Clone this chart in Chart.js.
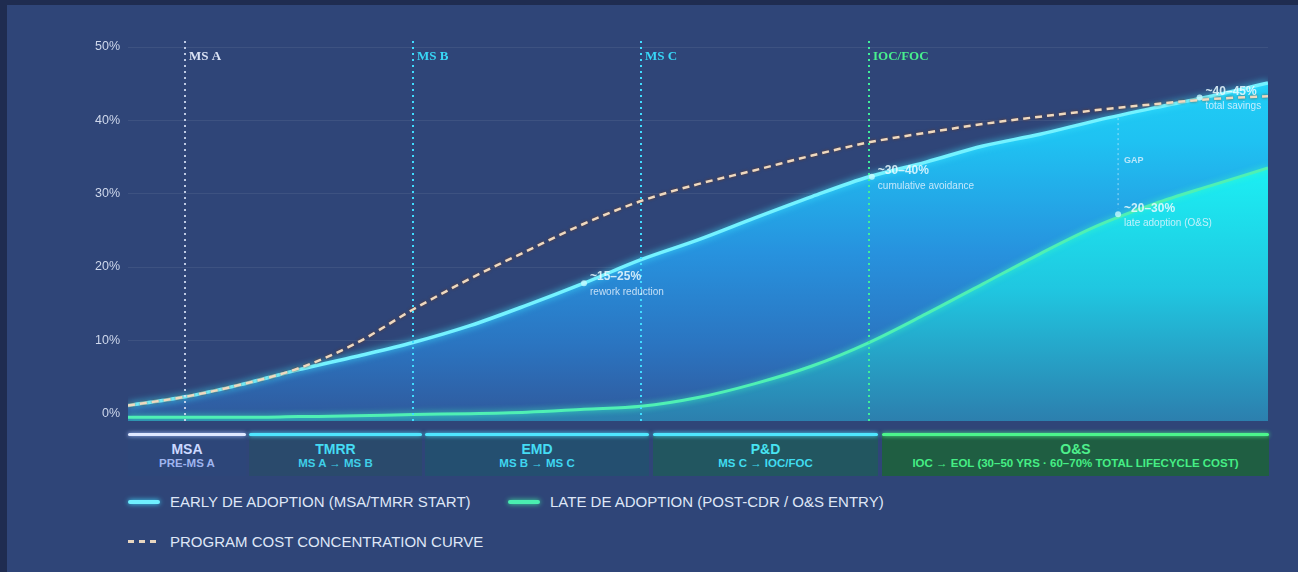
<!DOCTYPE html>
<html>
<head>
<meta charset="utf-8">
<script src="https://cdn.jsdelivr.net/npm/chart.js@4/dist/chart.umd.min.js"></script>
<style>
  html, body { margin: 0; padding: 0; }
  body { width: 1298px; height: 572px; background: #1f2c50; position: relative; overflow: hidden; font-family: "Liberation Sans", Arial, sans-serif; }
  #panel { position: absolute; left: 7px; top: 5px; right: 0; bottom: 0; background: #2f4578; }
  #chart { position: absolute; left: 0; top: 0; }
  .phase { position: absolute; top: 433px; height: 43px; text-align: center; }
  .phase .bar { height: 3px; border-radius: 2px; }
  .phase .name { font-weight: bold; font-size: 14px; margin-top: 6px; line-height: 15px; }
  .phase .sub { font-weight: bold; font-size: 11.5px; margin-top: 0px; line-height: 13px; }
  .legend { position: absolute; display: flex; align-items: center; color: #dfe7f7; font-size: 15px; }
  .legend .mk { width: 32px; height: 4px; border-radius: 2px; margin-right: 10px; }
</style>
</head>
<body>
<div id="panel"></div>
<canvas id="chart" width="1298" height="425"></canvas>

<div class="phase" style="left:128px;width:118px;background:#2d4679;">
  <div class="bar" style="background:#dfe8ff;box-shadow:0 0 4px #aac4ff;"></div>
  <div class="name" style="color:#cbd8ff;">MSA</div><div class="sub" style="color:#9fb4ee;">PRE-MS A</div>
</div>
<div class="phase" style="left:249px;width:173px;background:#2a4a6c;">
  <div class="bar" style="background:#4fe6ff;box-shadow:0 0 4px #4fe6ff;"></div>
  <div class="name" style="color:#45dcf4;">TMRR</div><div class="sub" style="color:#3fcfe8;">MS A → MS B</div>
</div>
<div class="phase" style="left:425px;width:224px;background:#244f70;">
  <div class="bar" style="background:#4fe6ff;box-shadow:0 0 4px #4fe6ff;"></div>
  <div class="name" style="color:#45dcf4;">EMD</div><div class="sub" style="color:#3fd6f0;">MS B → MS C</div>
</div>
<div class="phase" style="left:653px;width:225px;background:#225660;">
  <div class="bar" style="background:#4fe6ff;box-shadow:0 0 4px #4fe6ff;"></div>
  <div class="name" style="color:#48e4f2;">P&amp;D</div><div class="sub" style="color:#40dcf0;">MS C → IOC/FOC</div>
</div>
<div class="phase" style="left:882px;width:387px;background:#1f5e42;">
  <div class="bar" style="background:#4cf58c;box-shadow:0 0 4px #4cf58c;"></div>
  <div class="name" style="color:#4ef08c;">O&amp;S</div><div class="sub" style="color:#45ee85;">IOC → EOL (30–50 YRS · 60–70% TOTAL LIFECYCLE COST)</div>
</div>

<div class="legend" style="left:128px;top:493px;">
  <div class="mk" style="background:#6ff0ff;box-shadow:0 0 5px #3fdcff;"></div>EARLY DE ADOPTION (MSA/TMRR START)
</div>
<div class="legend" style="left:508px;top:493px;">
  <div class="mk" style="background:#4aeeb0;box-shadow:0 0 5px #3fe8a0;"></div>LATE DE ADOPTION (POST-CDR / O&amp;S ENTRY)
</div>
<div class="legend" style="left:128px;top:533px;">
  <div class="mk" style="height:3px;border-radius:0;background:repeating-linear-gradient(90deg,#e8d6c0 0 6px,transparent 6px 11px);"></div>PROGRAM COST CONCENTRATION CURVE
</div>

<script>
// x positions (program timeline units, milestone MS A = 1 ... end of life = 20)
const xUnits = [0, 1, 2, 3, 4, 5, 6, 7, 8, 9, 10, 11, 12, 13, 14, 15, 16, 17, 18, 19, 20];
// cumulative % values
const earlyAdoption = [1.1, 2.3, 4.0, 6.0, 7.8, 9.7, 12.0, 14.8, 17.8, 21.0, 23.7, 26.7, 29.6, 32.3, 34.3, 36.5, 38.1, 40.0, 41.7, 43.3, 45.1];
const lateAdoption = [-0.5, -0.5, -0.5, -0.4, -0.3, -0.1, 0.0, 0.2, 0.6, 1.0, 2.2, 4.1, 6.5, 9.7, 13.6, 17.7, 21.8, 25.6, 28.6, 31.1, 33.5];
const costCurve = [1.1, 2.3, 4.0, 6.2, 9.6, 14.2, 18.4, 22.2, 25.9, 29.0, 31.3, 33.2, 35.2, 37.0, 38.3, 39.5, 40.5, 41.4, 42.2, 42.9, 43.3];
const yTicks = [0, 10, 20, 30, 40, 50];

const milestoneLabels = ["MS A", "MS B", "MS C", "IOC/FOC"];
const milestoneAt = [1, 5, 9, 13];

const callouts = [
  { x: 8.0, y: 17.8, head: "~15–25%", note: "rework reduction" },
  { x: 13.05, y: 32.3, head: "~30–40%", note: "cumulative avoidance" },
  { x: 17.37, y: 27.2, head: "~20–30%", note: "late adoption (O&S)" },
  { x: 18.8, y: 43.1, head: "~40–45%", note: "total savings" },
];
const gapAt = 17.37;

const toXY = (ys) => ys.map((y, i) => ({ x: xUnits[i], y }));

function vGrad(ctx, area, stops) {
  const g = ctx.createLinearGradient(0, area.top, 0, area.bottom);
  stops.forEach(([o, c]) => g.addColorStop(o, c));
  return g;
}

const glowPlugin = {
  id: "glow",
  beforeDatasetDraw(chart, args) {
    const ds = chart.data.datasets[args.index];
    const ctx = chart.ctx;
    ctx.save();
    ctx.shadowColor = ds.glowColor || "transparent";
    ctx.shadowBlur = ds.glowBlur || 0;
  },
  afterDatasetDraw(chart) {
    chart.ctx.restore();
  },
};

const markPlugin = {
  id: "marks",
  afterDatasetsDraw(chart) {
    const { ctx, chartArea: a, scales: { x, y } } = chart;
    const colors = ["rgba(215,225,245,0.85)", "#3fdcff", "#3fdcff", "#3ff09a"];
    const textColors = ["#dbe3f5", "#38d8f8", "#38d8f8", "#48f08e"];
    ctx.save();
    milestoneAt.forEach((m, i) => {
      const px = x.getPixelForValue(m);
      ctx.strokeStyle = colors[i];
      ctx.lineWidth = 2;
      ctx.setLineDash([2, 4]);
      ctx.beginPath();
      ctx.moveTo(px, a.top - 6);
      ctx.lineTo(px, a.bottom);
      ctx.stroke();
      ctx.setLineDash([]);
      ctx.font = 'bold 13px "Liberation Serif", serif';
      ctx.fillStyle = textColors[i];
      ctx.textBaseline = "middle";
      ctx.fillText(milestoneLabels[i], px + 4, a.top + 10);
    });

    // gap marker
    const gx = x.getPixelForValue(gapAt);
    ctx.strokeStyle = "rgba(230,245,255,0.6)";
    ctx.lineWidth = 1;
    ctx.setLineDash([2, 3]);
    ctx.beginPath();
    ctx.moveTo(gx, y.getPixelForValue(40.3));
    ctx.lineTo(gx, y.getPixelForValue(28.0));
    ctx.stroke();
    ctx.setLineDash([]);
    ctx.font = "bold 9px 'Liberation Sans', sans-serif";
    ctx.fillStyle = "rgba(235,245,255,0.75)";
    ctx.fillText("GAP", gx + 6, y.getPixelForValue(34.5));

    callouts.forEach((c) => {
      const px = x.getPixelForValue(c.x);
      const py = y.getPixelForValue(c.y);
      ctx.beginPath();
      ctx.arc(px, py, 3, 0, Math.PI * 2);
      ctx.fillStyle = "rgba(200,250,255,0.8)";
      ctx.fill();
      ctx.font = "bold 12px 'Liberation Sans', sans-serif";
      ctx.fillStyle = "rgba(235,250,255,0.85)";
      ctx.fillText(c.head, px + 6, py - 6);
      ctx.font = "10px 'Liberation Sans', sans-serif";
      ctx.fillStyle = "rgba(235,245,255,0.8)";
      ctx.fillText(c.note, px + 6, py + 9);
    });
    ctx.restore();
  },
};

new Chart(document.getElementById("chart"), {
  type: "line",
  data: {
    datasets: [
      {
        label: "PROGRAM COST CONCENTRATION CURVE",
        data: toXY(costCurve),
        borderColor: "#eed9c0",
        borderWidth: 2.5,
        borderDash: [7, 5],
        fill: false,
        pointRadius: 0,
        cubicInterpolationMode: "monotone",
        glowColor: "rgba(120,60,20,0.8)",
        glowBlur: 3,
        order: 0,
      },
      {
        label: "LATE DE ADOPTION (POST-CDR / O&S ENTRY)",
        data: toXY(lateAdoption),
        borderColor: "#4ff0b4",
        borderWidth: 3,
        pointRadius: 0,
        cubicInterpolationMode: "monotone",
        fill: "start",
        backgroundColor: (c) => {
          const a = c.chart.chartArea;
          if (!a) return "rgba(30,220,235,0.8)";
          return vGrad(c.chart.ctx, a, [[0, "#1ff4f6"], [0.35, "#1cecf2"], [0.65, "#20c6e0"], [1, "#2c7fae"]]);
        },
        glowColor: "rgba(60,255,190,0.8)",
        glowBlur: 6,
        order: 1,
      },
      {
        label: "EARLY DE ADOPTION (MSA/TMRR START)",
        data: toXY(earlyAdoption),
        borderColor: "#74f2ff",
        borderWidth: 3.5,
        pointRadius: 0,
        cubicInterpolationMode: "monotone",
        fill: "start",
        backgroundColor: (c) => {
          const a = c.chart.chartArea;
          if (!a) return "rgba(30,150,230,0.8)";
          return vGrad(c.chart.ctx, a, [[0, "#20d6f8"], [0.25, "#1fc2f2"], [0.55, "#2792de"], [0.8, "#2b74c0"], [1, "#30599c"]]);
        },
        glowColor: "rgba(60,230,255,0.9)",
        glowBlur: 7,
        order: 2,
      },
    ],
  },
  options: {
    responsive: false,
    animation: false,
    devicePixelRatio: 1,
    layout: { padding: { left: 88, right: 30, top: 47, bottom: 4 } },
    plugins: { legend: { display: false }, tooltip: { enabled: false } },
    scales: {
      x: { type: "linear", min: 0, max: 20, display: false },
      y: {
        min: -1,
        max: 50,
        afterFit: (s) => { s.width = 40; s.paddingTop = 0; s.paddingBottom = 0; },
        afterBuildTicks: (s) => { s.ticks = yTicks.map((v) => ({ value: v })); },
        border: { display: false },
        grid: { color: "rgba(255,255,255,0.07)", drawTicks: false },
        ticks: {
          padding: 8,
          color: "#cfd8ec",
          font: { family: "'Liberation Sans', sans-serif", size: 12.5 },
          callback: (v) => v + "%",
        },
      },
    },
  },
  plugins: [glowPlugin, markPlugin],
});
</script>
</body>
</html>
